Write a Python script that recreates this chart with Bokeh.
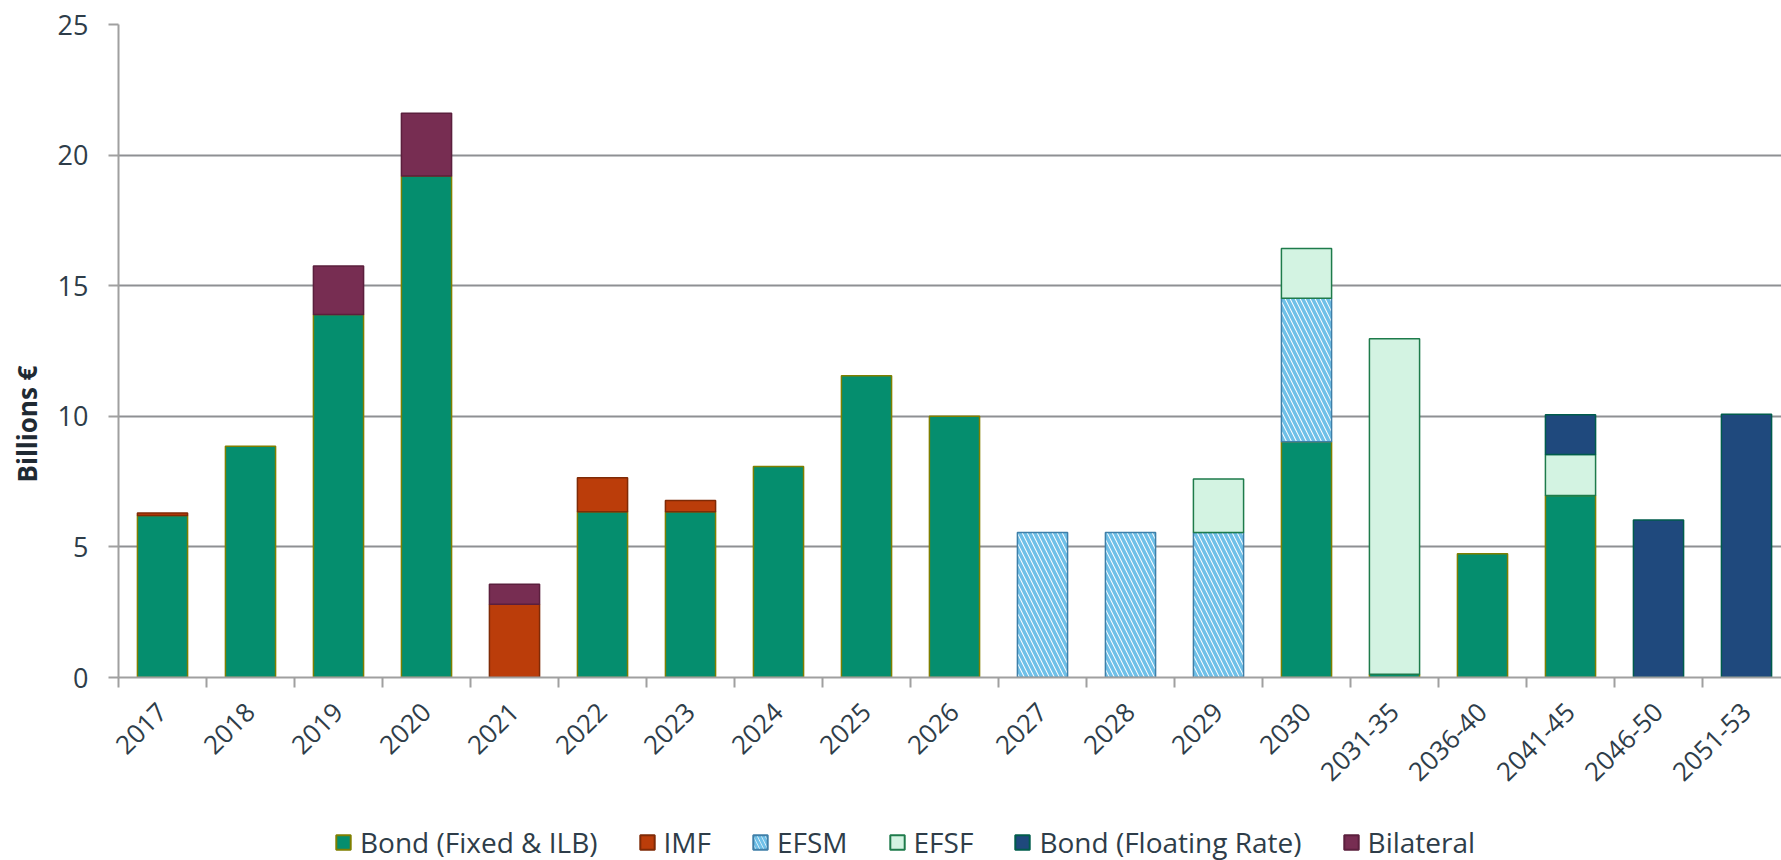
import math
from bokeh.plotting import figure
from bokeh.layouts import column
from bokeh.models import ColumnDataSource, Range1d, FixedTicker, Legend, LegendItem, Title
from bokeh.embed import file_html
from bokeh.resources import INLINE

categories = ["2017", "2018", "2019", "2020", "2021", "2022", "2023", "2024", "2025", "2026",
              "2027", "2028", "2029", "2030", "2031-35", "2036-40", "2041-45", "2046-50", "2051-53"]
bond_fixed = [6.2, 8.85, 13.9, 19.2, 0, 6.35, 6.35, 8.08, 11.55, 10.0, 0, 0, 0, 9.03, 0.12, 4.74, 6.97, 0, 0]
imf = [0.1, 0, 0, 0, 2.8, 1.3, 0.43, 0, 0, 0, 0, 0, 0, 0, 0, 0, 0, 0, 0]
efsm = [0, 0, 0, 0, 0, 0, 0, 0, 0, 0, 5.55, 5.55, 5.55, 5.49, 0, 0, 0, 0, 0]
efsf = [0, 0, 0, 0, 0, 0, 0, 0, 0, 0, 0, 0, 2.05, 1.9, 12.85, 0, 1.57, 0, 0]
bond_floating = [0, 0, 0, 0, 0, 0, 0, 0, 0, 0, 0, 0, 0, 0, 0, 0, 1.52, 6.03, 10.08]
bilateral = [0, 0, 1.85, 2.4, 0.77, 0, 0, 0, 0, 0, 0, 0, 0, 0, 0, 0, 0, 0, 0]

series_names = ["Bond (Fixed & ILB)", "IMF", "EFSM", "EFSF", "Bond (Floating Rate)", "Bilateral"]
series_values = [bond_fixed, imf, efsm, efsf, bond_floating, bilateral]
fills = ["#058e6e", "#bb3d0a", "#ffffff", "#d3f3e2", "#1f497d", "#772d52"]
lines = ["#7f7f00", "#7f2a06", "#3f7fa8", "#1e7b4b", "#005c4c", "#5b1f3d"]
hatches = [" ", " ", "\\", " ", " ", " "]
HATCH_COLOR = "#6fc0e8"
HATCH_W, HATCH_S = 3.5, 10

FONT = "Open Sans"
TXT = "#2e3d49"
GRID = "#8e9093"
AXIS = "#a0a0a0"

W, H_MAIN, H_LEG = 1781, 822, 38
LEFT, TOP, BOTTOM_Y = 118, 24, 677
CAT_PX = 88.0
BAR_W = 0.57

frame_w = W - LEFT
p = figure(width=W, height=H_MAIN, output_backend="svg", toolbar_location=None,
           x_range=Range1d(-0.5, -0.5 + frame_w / CAT_PX), y_range=Range1d(0, 25),
           min_border_left=LEFT, min_border_right=0, min_border_top=TOP,
           min_border_bottom=H_MAIN - BOTTOM_Y)
p.outline_line_color = None

# stacked bars, skipping empty segments
running = [0.0] * len(categories)
for vals, fc, lc, hp in zip(series_values, fills, lines, hatches):
    xs, bottoms, tops = [], [], []
    for i, v in enumerate(vals):
        if v != 0:
            xs.append(i)
            bottoms.append(running[i])
            tops.append(running[i] + v)
            running[i] += v
    src = ColumnDataSource(data=dict(x=xs, bottom=bottoms, top=tops))
    p.vbar(x="x", bottom="bottom", top="top", width=BAR_W, source=src,
           fill_color=fc, line_color=lc, line_width=1.5,
           hatch_pattern=hp, hatch_color=HATCH_COLOR, hatch_weight=HATCH_W, hatch_scale=HATCH_S)

p.xgrid.grid_line_color = None
p.ygrid.grid_line_color = GRID
p.ygrid.grid_line_width = 2

xa = p.xaxis[0]
xa.ticker = FixedTicker(ticks=list(range(len(categories))),
                        minor_ticks=[i - 0.5 for i in range(len(categories) + 1)])
xa.major_label_overrides = {i: c for i, c in enumerate(categories)}
xa.major_tick_out = 0
xa.major_tick_in = 0
xa.minor_tick_out = 10
xa.minor_tick_in = 0
xa.minor_tick_line_color = AXIS
xa.minor_tick_line_width = 2
xa.axis_line_color = AXIS
xa.axis_line_width = 2
xa.major_label_orientation = math.pi / 4
xa.major_label_standoff = 20
xa.major_label_text_font = FONT
xa.major_label_text_font_size = "26px"
xa.major_label_text_color = TXT

ya = p.yaxis[0]
ya.ticker = FixedTicker(ticks=[0, 5, 10, 15, 20, 25])
ya.minor_tick_line_color = None
ya.major_tick_out = 10
ya.major_tick_in = 0
ya.major_tick_line_color = AXIS
ya.major_tick_line_width = 2
ya.axis_line_color = AXIS
ya.axis_line_width = 2
ya.major_label_standoff = 20
ya.major_label_text_font = FONT
ya.major_label_text_font_size = "27px"
ya.major_label_text_color = TXT

ytitle = Title(text="Billions €", align="left", vertical_align="top", offset=195, standoff=16,
               text_font=FONT, text_font_style="bold", text_font_size="26px",
               text_color="#1f2a33")
p.add_layout(ytitle, "left")

# legend strip (frames of a column are aligned, so its frame starts at LEFT)
leg = figure(width=W, height=H_LEG, output_backend="svg", toolbar_location=None,
             x_axis_type=None, y_axis_type=None, min_border=0,
             x_range=Range1d(0, 1), y_range=Range1d(0, 1))
leg.outline_line_color = None
leg.xgrid.grid_line_color = None
leg.ygrid.grid_line_color = None
items = []
for name, fc, lc, hp in zip(series_names, fills, lines, hatches):
    src = ColumnDataSource(data=dict(x=[0.5], top=[0.5]))
    r = leg.vbar(x="x", top="top", width=0.1, source=src,
                 fill_color=fc, line_color=lc, line_width=2, hatch_pattern=hp,
                 hatch_color=HATCH_COLOR, hatch_weight=3, hatch_scale=8)
    r.visible = False
    items.append(LegendItem(label=name, renderers=[r]))
legend = Legend(items=items, orientation="horizontal", location=(334 - LEFT, -1),
                glyph_width=18, glyph_height=18, label_standoff=8, spacing=40,
                padding=0, margin=0, border_line_color=None, background_fill_alpha=0,
                click_policy="none", inactive_fill_alpha=0,
                label_text_font=FONT, label_text_font_size="28px", label_text_color=TXT)
leg.add_layout(legend, "center")

layout = column(p, leg, spacing=0)
open("out.html", "w").write(file_html(layout, INLINE))
